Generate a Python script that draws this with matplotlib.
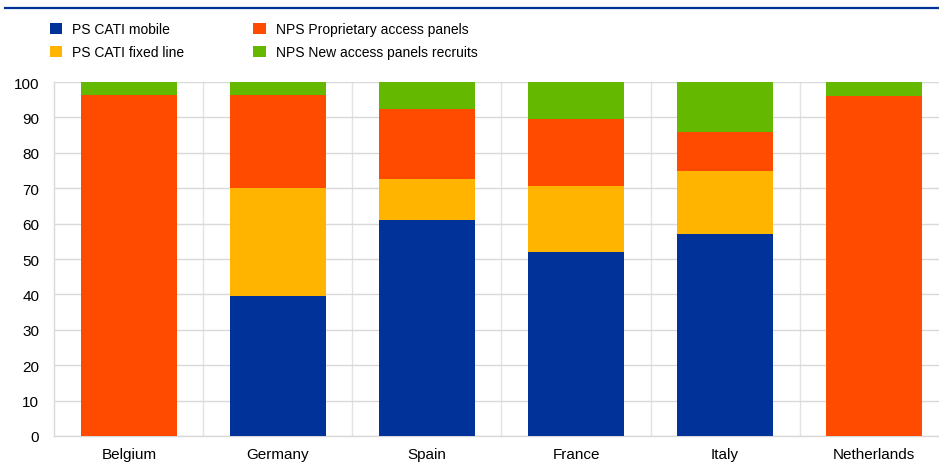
import numpy as np
import matplotlib
matplotlib.use("Agg")
import matplotlib.pyplot as plt
from matplotlib.lines import Line2D

plt.rcParams['font.family'] = ['Liberation Sans', 'DejaVu Sans']

countries = ["Belgium", "Germany", "Spain", "France", "Italy", "Netherlands"]
series_names = ["PS CATI mobile", "PS CATI fixed line",
                "NPS Proprietary access panels", "NPS New access panels recruits"]
ps_mobile = [0, 39.5, 61.0, 52.0, 57.0, 0]
ps_fixed = [0, 30.5, 11.5, 18.5, 17.8, 0]
nps_proprietary = [96.2, 26.3, 20.0, 19.0, 11.0, 96.0]
nps_new = [3.8, 3.7, 7.5, 10.5, 14.2, 4.0]
colors = ["#003299", "#FFB400", "#FF4B00", "#65B800"]

fig = plt.figure(figsize=(9.39, 4.64), dpi=100)
ax = fig.add_axes([0.058, 0.0582, 0.942, 0.7629])

x = np.arange(len(countries))
bottom = np.zeros(len(countries))
for vals, name, c in zip([ps_mobile, ps_fixed, nps_proprietary, nps_new], series_names, colors):
    ax.bar(x, vals, width=0.64, bottom=bottom, color=c, label=name, zorder=3)
    bottom += np.array(vals)

ax.set_ylim(0, 100)
ax.set_xlim(-0.5, 5.436)
ax.set_yticks(range(0, 101, 10))
ax.set_xticks(x)
ax.set_xticklabels(countries)
ax.set_xticks(np.arange(0.5, 5.5, 1), minor=True)
ax.tick_params(axis='both', which='both', length=0, labelsize=11, colors='black')
ax.tick_params(axis='x', pad=8)
ax.tick_params(axis='y', pad=11)
ax.grid(axis='y', which='major', color='#d9d9d9', linewidth=1, zorder=0)
ax.grid(axis='x', which='minor', color='#e3e3e3', linewidth=1, zorder=0)
for s in ['top', 'right']:
    ax.spines[s].set_visible(False)
for s in ['left', 'bottom']:
    ax.spines[s].set_color('#d9d9d9')
    ax.spines[s].set_linewidth(1)

fig.legend(loc='upper left', bbox_to_anchor=(0.047, 0.962), ncol=2, frameon=False,
           handlelength=0.92, handleheight=0.92, handletextpad=0.68, columnspacing=5.0,
           labelspacing=0.65, fontsize=10, borderaxespad=0)

fig.add_artist(Line2D([5 / 939, 1], [1 - 9 / 464, 1 - 9 / 464], color="#003299",
                      linewidth=1.6, transform=fig.transFigure))

fig.savefig("out.png", dpi=100)
